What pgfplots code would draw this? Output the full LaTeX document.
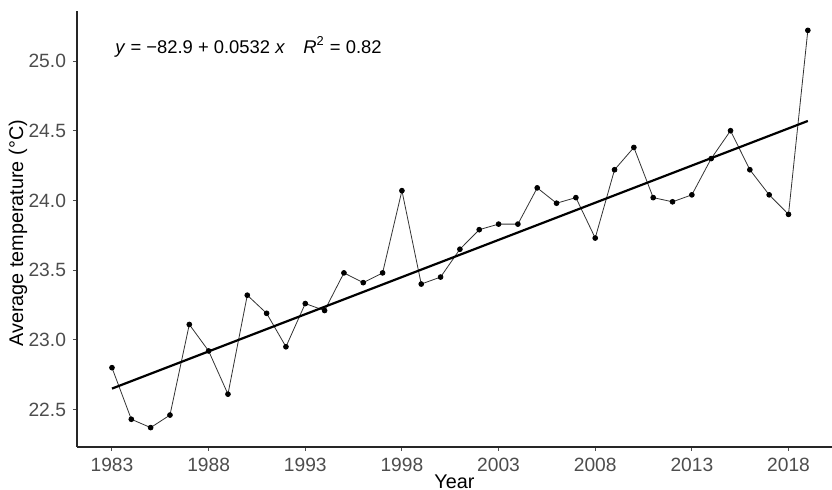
\documentclass[border=0pt]{standalone}
\usepackage{pgfplots}
\pgfplotsset{compat=1.18}
\usepackage{fontspec}
\setmainfont{Liberation Sans}
\definecolor{tickgray}{HTML}{4D4D4D}
\begin{document}
\begin{tikzpicture}
\begin{axis}[
  scale only axis, width=377.5pt, height=218pt,
  xmin=1981.19, xmax=2020.25, ymin=22.231, ymax=25.359,
  axis x line*=bottom, axis y line*=left,
  axis line style={-, color=black!85, line width=0.6pt},
  xtick={1983,1988,...,2018}, ytick={22.5,23.0,23.5,24.0,24.5,25.0},
  tick align=outside, major tick length=2pt,
  tick style={color=tickgray, line width=0.5pt},
  /pgf/number format/assume math mode=true,
  ticklabel style={font=\fontsize{9.6}{11}\selectfont, color=tickgray},
  xticklabel style={/pgf/number format/1000 sep={}},
  yticklabel style={/pgf/number format/.cd, fixed, fixed zerofill, precision=1},
  xlabel={Year}, ylabel={Average temperature (°C)},
  label style={font=\fontsize{9.9}{12}\selectfont},
  xlabel style={at={(axis description cs:0.5,0)}, anchor=north, inner sep=0pt, yshift=-13.5pt},
  ylabel style={at={(axis description cs:-0.0781,0.49)}, anchor=center, inner sep=0pt},
  clip=false,
]
\addplot[color=black!80, line width=0.4pt, mark=*, mark size=1.2pt, mark options={fill=black, draw=black}]
coordinates {
(1983,22.80) (1984,22.43) (1985,22.37) (1986,22.46) (1987,23.11) (1988,22.92)
(1989,22.61) (1990,23.32) (1991,23.19) (1992,22.95) (1993,23.26) (1994,23.21)
(1995,23.48) (1996,23.41) (1997,23.48) (1998,24.07) (1999,23.40) (2000,23.45)
(2001,23.65) (2002,23.79) (2003,23.83) (2004,23.83) (2005,24.09) (2006,23.98)
(2007,24.02) (2008,23.73) (2009,24.22) (2010,24.38) (2011,24.02) (2012,23.99)
(2013,24.04) (2014,24.30) (2015,24.50) (2016,24.22) (2017,24.04) (2018,23.90)
(2019,25.22)
};
\addplot[color=black, line width=1.1pt, no marks] coordinates {(1983,22.65) (2019,24.57)};
\node[anchor=west, inner sep=0pt, font=\fontsize{9.2}{11}\selectfont] at (axis cs:1983.15,25.10)
  {\textit{y} = −82.9 + 0.0532 \textit{x}\hspace{1em}\textit{R}\textsuperscript{2} = 0.82};
\end{axis}
\pgfresetboundingbox
\path (-38.5pt,-21.5pt) rectangle (377.5pt,223.5pt);
\end{tikzpicture}
\end{document}
